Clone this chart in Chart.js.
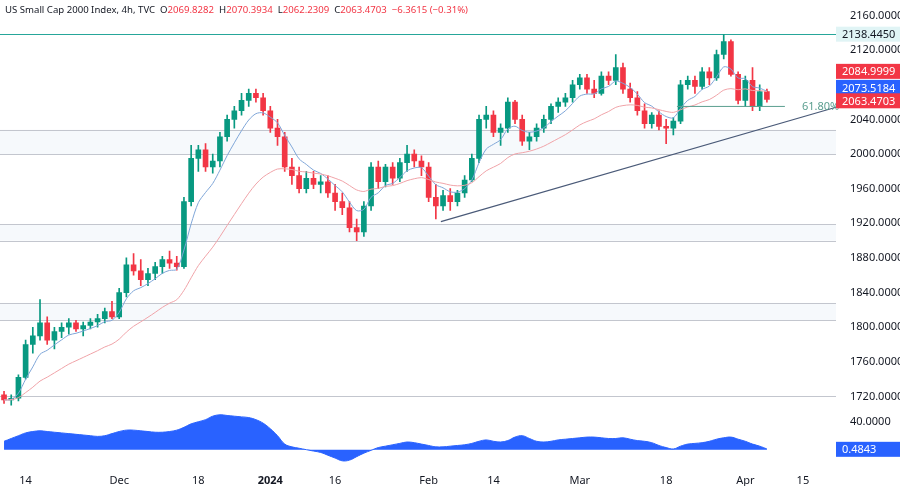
<!DOCTYPE html>
<html><head><meta charset="utf-8">
<script src="https://cdn.jsdelivr.net/npm/chart.js@4.4.0/dist/chart.umd.min.js"></script>
<style>
body{margin:0;width:900px;height:486px;background:#fff;overflow:hidden;font-family:"Noto Sans",sans-serif;position:relative}
#hdr{position:absolute;left:5px;top:3px;font-size:9.6px;color:#131722;z-index:2;white-space:nowrap}
#hdr span{color:#f23645}
#c1{position:absolute;left:0;top:-8px}
#c2{position:absolute;left:0;top:398px}
</style></head><body>
<div id="hdr">US Small Cap 2000 Index, 4h, TVC&nbsp;&nbsp;O<span>2069.8282</span>&nbsp;&nbsp;H<span>2070.3934</span>&nbsp;&nbsp;L<span>2062.2309</span>&nbsp;&nbsp;C<span>2063.4703</span>&nbsp;&nbsp;<span>−6.3615 (−0.31%)</span></div>
<canvas id="c1" width="900" height="426"></canvas>
<canvas id="c2" width="900" height="88"></canvas>
<script>
const ohlc = [
[1722,1726,1712,1716],[1716,1722,1708,1718],[1718,1745,1715,1742],[1742,1785,1740,1780],[1780,1800,1770,1790],
[1790,1832,1785,1805],[1805,1812,1780,1785],[1785,1800,1775,1795],[1795,1805,1788,1800],[1800,1810,1792,1805],
[1805,1808,1795,1798],[1798,1806,1790,1802],[1802,1810,1798,1806],[1806,1815,1800,1810],[1810,1822,1805,1818],
[1818,1830,1810,1812],[1812,1845,1810,1840],[1840,1880,1835,1872],[1872,1885,1860,1865],[1865,1878,1848,1855],
[1855,1868,1848,1862],[1862,1875,1855,1870],[1870,1882,1862,1878],[1878,1888,1868,1874],[1874,1882,1866,1870],
[1870,1950,1868,1945],[1945,2010,1940,1995],[1995,2010,1980,2005],[2005,2012,1980,1985],[1985,2000,1978,1992],
[1992,2025,1985,2020],[2020,2045,2015,2040],[2040,2055,2030,2050],[2050,2070,2045,2062],[2062,2075,2055,2070],
[2070,2075,2060,2065],[2065,2070,2045,2050],[2050,2055,2025,2030],[2030,2040,2010,2020],[2020,2025,1980,1985],
[1985,1995,1965,1975],[1975,1985,1955,1960],[1960,1980,1955,1972],[1972,1980,1960,1965],[1965,1975,1955,1968],
[1968,1975,1950,1955],[1955,1965,1935,1945],[1945,1955,1930,1938],[1938,1945,1910,1915],[1915,1925,1900,1910],
[1910,1945,1905,1940],[1940,1990,1935,1985],[1985,1992,1960,1968],[1968,1988,1962,1985],[1985,1990,1965,1972],
[1972,1995,1968,1990],[1990,2010,1980,2000],[2000,2005,1985,1992],[1992,1998,1975,1985],[1985,1990,1945,1950],
[1950,1965,1925,1940],[1940,1958,1935,1952],[1952,1960,1935,1945],[1945,1958,1940,1955],[1955,1975,1950,1970],
[1970,2000,1968,1995],[1995,2045,1990,2040],[2040,2055,2030,2045],[2045,2050,2020,2025],[2025,2035,2010,2030],
[2030,2065,2025,2060],[2060,2062,2035,2040],[2040,2045,2010,2015],[2015,2025,2005,2020],[2020,2035,2015,2030],
[2030,2045,2025,2040],[2040,2058,2035,2055],[2055,2065,2048,2060],[2060,2070,2055,2065],[2065,2085,2060,2080],
[2080,2092,2075,2088],[2088,2092,2070,2075],[2075,2085,2065,2070],[2070,2095,2068,2090],[2090,2095,2080,2085],
[2085,2115,2080,2100],[2100,2105,2070,2075],[2075,2082,2060,2065],[2065,2072,2045,2050],[2050,2058,2030,2035],
[2035,2048,2030,2045],[2045,2050,2028,2032],[2032,2040,2012,2030],[2030,2042,2022,2038],[2038,2085,2035,2080],
[2080,2090,2075,2085],[2085,2090,2070,2078],[2078,2100,2075,2095],[2095,2100,2080,2088],[2088,2120,2085,2115],
[2115,2138,2110,2130],[2130,2132,2090,2092],[2092,2095,2058,2062],[2062,2090,2055,2085],[2085,2100,2050,2055],
[2055,2080,2050,2072],[2072,2075,2060,2063]
];
const osc = [12,16,20,24,26, 27,26,25,24,23, 22,21,20,19,20, 23,26,28,28,27, 26,25,25,26,28,
 32,37,40,43,48, 50,49,48,47,46, 43,38,30,20,8, 4,2,0,-2,-4, -8,-12,-16,-15,-10,
 -5,-1,3,5,7, 9,11,10,8,6, 4,4,5,6,7, 9,12,14,12,11, 13,18,20,16,12,
 11,12,14,15,16, 17,18,18,17,16, 16,17,15,13,12, 10,6,3,1,5, 8,9,10,12,15, 17,18,15,12,8, 5,1];
const tickIdx = [3,16,27,37,46,59,68,80,92,103,111];
const tickLbl = ["14","Dec","18","2024","16","Feb","14","Mar","18","Apr","15"];
const bands = [[2000,2028],[1900,1919],[1808,1828]];
const trend = [[60.7,1922],[115.6,2054]];
const fibLine = [93.5,108.5,2055];
// [label placement value, text, bg, fg]
const badges = [[2138.445,"2138.4450","#e0f4f5","#131722"],[2095.5,"2084.9999","#f23645","#fff"],[2077,"2073.5184","#2962ff","#fff"],[2061.5,"2063.4703","#f23645","#fff"]];

function ema(arr,n){const k=2/(n+1);let out=[],e=arr[0];arr.forEach((v,i)=>{e=i?v*k+e*(1-k):v;out.push({x:i,y:e});});return out;}
const closes=ohlc.map(d=>d[3]);
const XMIN=-0.56,XMAX=115.6;
const up=d=>d[3]>=d[0];
const bodyData=ohlc.map((d,i)=>({x:i,y:[d[0],d[3]===d[0]?d[0]+0.5:d[3]]}));
const wickData=ohlc.map((d,i)=>({x:i,y:[d[2],d[1]]}));
const cols=ohlc.map(d=>up(d)?'#089981':'#f23645');

const overlay={id:'ov',beforeDatasetsDraw(c){const ctx=c.ctx,a=c.chartArea,x=c.scales.x,y=c.scales.y;
 ctx.save();
 bands.forEach(b=>{const y1=y.getPixelForValue(b[1]),y0=y.getPixelForValue(b[0]);
  ctx.fillStyle='rgba(220,230,245,0.25)';ctx.fillRect(0,y1,a.right,y0-y1);
  ctx.strokeStyle='#c3c6ce';ctx.lineWidth=1;
  [y1,y0].forEach(p=>{ctx.beginPath();ctx.moveTo(0,Math.round(p)+0.5);ctx.lineTo(a.right,Math.round(p)+0.5);ctx.stroke();});});
 ctx.strokeStyle='#c3c6ce';ctx.beginPath();const p17=Math.round(y.getPixelForValue(1720))+0.5;ctx.moveTo(0,p17);ctx.lineTo(a.right,p17);ctx.stroke();
 const pc=Math.round(y.getPixelForValue(2138.445))+0.5;ctx.strokeStyle='#26a69a';ctx.beginPath();ctx.moveTo(0,pc);ctx.lineTo(a.right,pc);ctx.stroke();
 ctx.restore();},
 afterDatasetsDraw(c){const ctx=c.ctx,a=c.chartArea,x=c.scales.x,y=c.scales.y;ctx.save();
 ctx.strokeStyle='#4a5a78';ctx.lineWidth=1.2;ctx.beginPath();
 ctx.moveTo(x.getPixelForValue(trend[0][0]),y.getPixelForValue(trend[0][1]));
 ctx.lineTo(x.getPixelForValue(trend[1][0]),y.getPixelForValue(trend[1][1]));ctx.lineTo(900,y.getPixelForValue(trend[1][1])-19);ctx.stroke();
 const fy=y.getPixelForValue(fibLine[2]);ctx.strokeStyle='#5a9e8f';ctx.lineWidth=1;ctx.beginPath();
 ctx.moveTo(x.getPixelForValue(fibLine[0]),fy);ctx.lineTo(x.getPixelForValue(fibLine[1]),fy);ctx.stroke();
 ctx.fillStyle='#5a9e8f';ctx.font='11px "Noto Sans"';ctx.textBaseline='middle';ctx.fillText('61.80%',802,fy);
 ctx.font='11px "Noto Sans"';
 badges.forEach(b=>{const py=y.getPixelForValue(b[0]);ctx.fillStyle=b[2];ctx.fillRect(a.right,py-7.5,64,15);
  ctx.fillStyle=b[3];ctx.textAlign='left';ctx.fillText(b[1],a.right+6,py+1);});
 ctx.restore();}};

new Chart(document.getElementById('c1'),{
 data:{datasets:[
  {type:'line',data:ema(closes,20),borderColor:'#f0a3a8',borderWidth:1,pointRadius:0,tension:0.3},
  {type:'line',data:ema(closes,6),borderColor:'#7fa6d8',borderWidth:1,pointRadius:0,tension:0.3},
  {type:'bar',data:wickData,backgroundColor:cols,barThickness:1,grouped:false},
  {type:'bar',data:bodyData,backgroundColor:cols,barThickness:5,grouped:false}
 ]},
 options:{animation:false,responsive:false,events:[],layout:{padding:0,autoPadding:false},
  plugins:{legend:{display:false},tooltip:{enabled:false}},
  scales:{
   x:{type:'linear',min:XMIN,max:XMAX,display:false,offset:false},
   y:{position:'right',min:1709.7,max:2172.6,grid:{display:false},border:{display:false},
    afterFit(s){s.width=64;},
    afterBuildTicks(s){const t=[];for(let v=1720;v<=2160;v+=40)t.push({value:v});s.ticks=t;},
    ticks:{color:'#131722',font:{size:11,family:'Noto Sans'},padding:6,callback:v=>v.toFixed(4)}}
  }},
 plugins:[overlay]});

const ov2={id:'ov2',afterDatasetsDraw(c){const ctx=c.ctx,a=c.chartArea,y=c.scales.y;ctx.save();
 const py=y.getPixelForValue(0.4843);ctx.fillStyle='#2962ff';ctx.fillRect(a.right,py-7.5,64,15);
 ctx.fillStyle='#fff';ctx.font='11px "Noto Sans"';ctx.textBaseline='middle';ctx.fillText('0.4843',a.right+6,py+1);ctx.restore();}};
new Chart(document.getElementById('c2'),{
 type:'line',
 data:{datasets:[{data:osc.map((v,i)=>({x:i,y:v})),borderColor:'#2962ff',backgroundColor:'#2962ff',borderWidth:1,pointRadius:0,fill:'origin',tension:0.4}]},
 options:{animation:false,responsive:false,events:[],layout:{padding:0,autoPadding:false},
  plugins:{legend:{display:false},tooltip:{enabled:false}},
  scales:{
   x:{type:'linear',min:XMIN,max:XMAX,offset:false,grid:{display:false},border:{display:false},
    afterFit(s){s.height=21;},
    afterBuildTicks(s){s.ticks=tickIdx.map(v=>({value:v}));},
    ticks:{autoSkip:false,maxRotation:0,padding:1,color:'#131722',
     font:c=>({size:11,family:'Noto Sans',weight:(c.tick&&c.tick.value===37)?'bold':'normal'}),
     callback:v=>tickLbl[tickIdx.indexOf(v)]}},
   y:{position:'right',min:-22,max:56,grid:{display:false},border:{display:false},
    afterFit(s){s.width=64;},
    afterBuildTicks(s){s.ticks=[{value:40}];},
    ticks:{color:'#131722',font:{size:11,family:'Noto Sans'},padding:6,callback:v=>v.toFixed(4)}}
  }},
 plugins:[ov2]});
</script></body></html>
